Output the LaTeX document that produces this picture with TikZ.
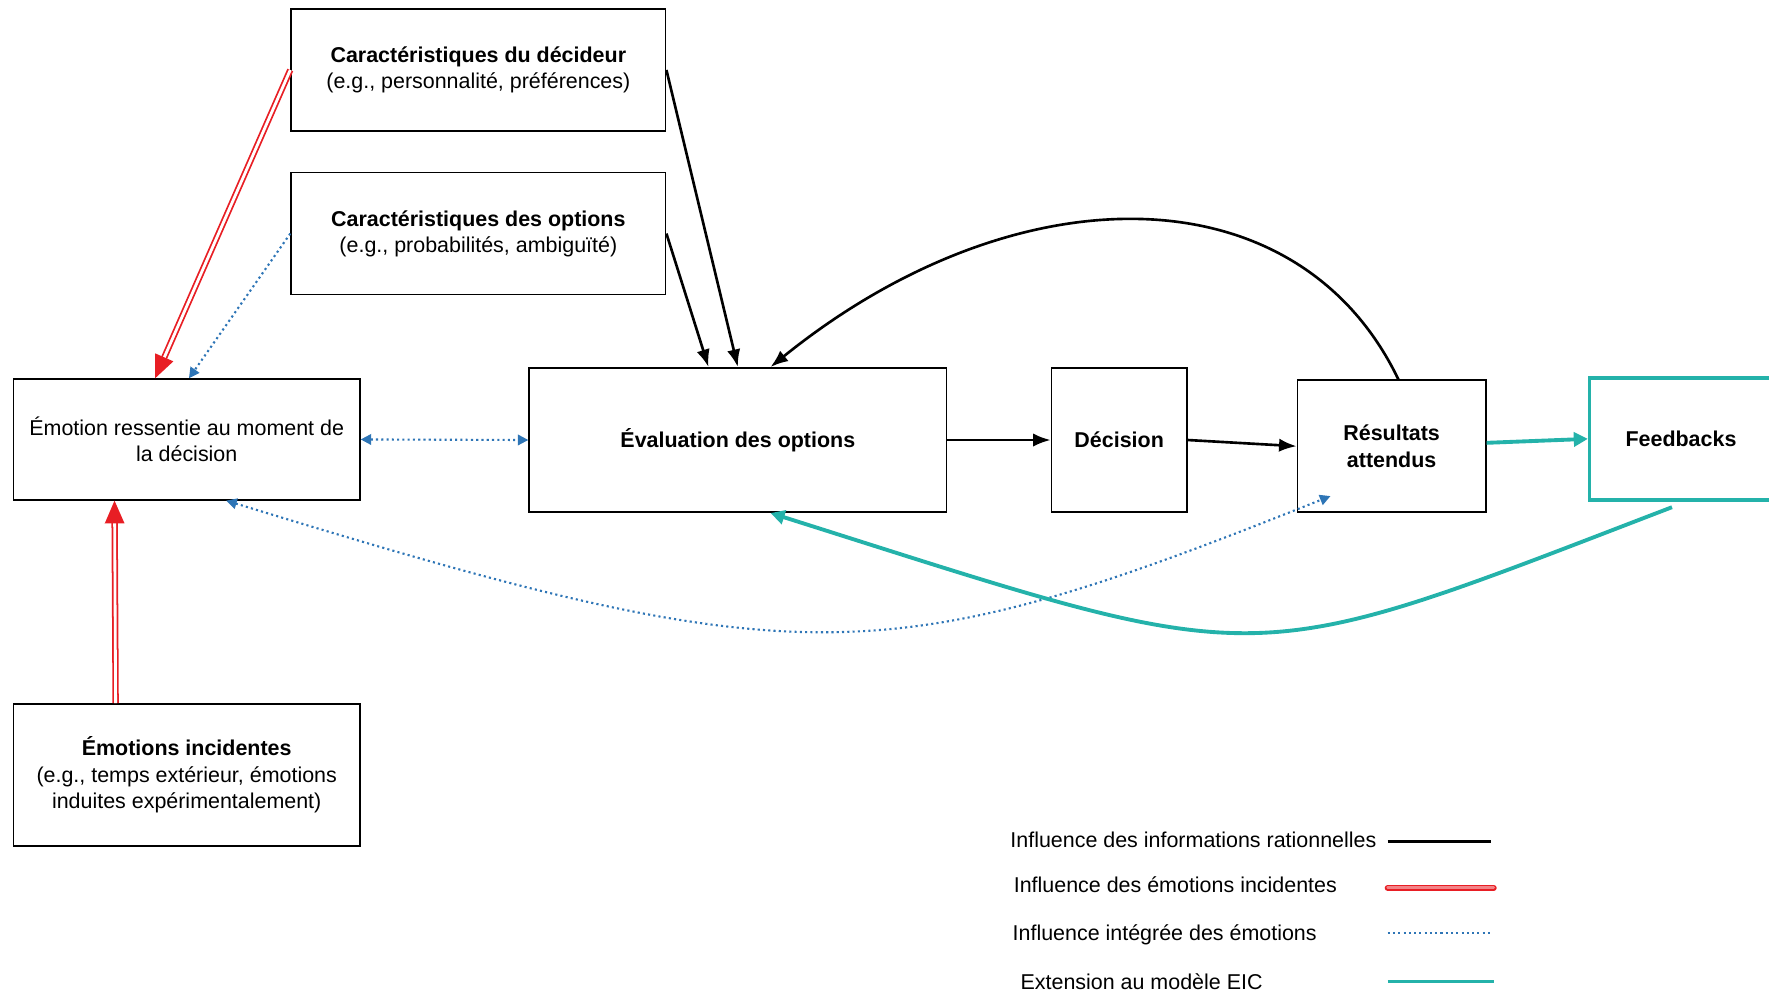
\documentclass[tikz,border=0pt]{standalone}
\usepackage{fontspec}
\setmainfont{Liberation Sans}
\usetikzlibrary{calc,arrows.meta}

\definecolor{eicteal}{RGB}{36,178,170}
\definecolor{emoblue}{RGB}{46,117,182}
\definecolor{incred}{RGB}{232,30,36}
\newcommand{\unitpx}{0.1128mm}

\tikzset{
	box/.style={draw, line width=0.45pt, align=center, inner sep=0pt, font=\fontsize{6.1}{7.5}\selectfont},
	legendtext/.style={anchor=west, inner sep=0pt, font=\fontsize{6.1}{7.5}\selectfont},
	rational/.style={line width=0.75pt, -{Latex[length=5pt,width=3.8pt]}},
	incident/.style={draw=incred, double=white, line width=0.5pt, double distance=0.8pt, -{Triangle[length=6.5pt,width=5.5pt,fill=incred]}},
	integrated/.style={emoblue, line width=0.6pt, dash pattern=on 0.6pt off 0.9pt, {Triangle[length=3pt,width=3pt]}-{Triangle[length=3pt,width=3pt]}},
	extension/.style={eicteal, line width=1.1pt, -{Triangle[length=4pt,width=4pt]}},
}

\begin{document}
\begin{tikzpicture}[x=\unitpx, y=-\unitpx]

	\useasboundingbox (0,0) rectangle (1568,882);

	\node[box, minimum width=332*\unitpx, minimum height=108*\unitpx] (dec) at (424,62) {\textbf{Caractéristiques du décideur}\\(e.g., personnalité, préférences)};
	\node[box, minimum width=332*\unitpx, minimum height=108*\unitpx] (opt) at (424,207) {\textbf{Caractéristiques des options}\\(e.g., probabilités, ambiguïté)};
	\node[box, minimum width=307*\unitpx, minimum height=107*\unitpx] (emo) at (165.5,389.5) {Émotion ressentie au moment de\\la décision};
	\node[box, minimum width=307*\unitpx, minimum height=126*\unitpx] (inc) at (165.5,687) {\textbf{Émotions incidentes}\\(e.g., temps extérieur, émotions\\induites expérimentalement)};
	\node[box, minimum width=370*\unitpx, minimum height=128*\unitpx] (eval) at (654,390) {\textbf{Évaluation des options}};
	\node[box, minimum width=120*\unitpx, minimum height=128*\unitpx] (deci) at (992,390) {\textbf{Décision}};
	\node[box, minimum width=167*\unitpx, minimum height=117*\unitpx] (res) at (1233.5,395.5) {\textbf{Résultats}\\\textbf{attendus}};
	\node[box, draw=eicteal, line width=1pt, minimum width=162*\unitpx, minimum height=108*\unitpx] (feed) at (1490,389) {\textbf{Feedbacks}};

	\draw[rational] (dec.east) -- (eval.north);
	\draw[rational] (opt.east) -- ($(eval.north)+(-26,0)$);
	\draw[rational] ($(res.north)+(6,0)$) .. controls (1150,150) and (900,150) .. ($(eval.north)+(29,0)$);
	\draw[rational] (eval.east) -- (deci.west);
	\draw[rational] (deci.east) -- (res.west);

	\draw[incident] (dec.west) -- ($(emo.north)+(-28,0)$);
	\draw[incident] ($(inc.north)+(-63,0)$) -- ($(emo.south)+(-64,0)$);

	\draw[integrated, -{Triangle[length=3pt,width=3pt]}] (opt.west) -- ($(emo.north)+(2,0)$);
	\draw[integrated] (emo.east) -- (eval.west);
	\draw[integrated] ($(emo.south)+(35,0)$) .. controls (710,600) and (783,598) .. ($(res.south west)+(30,-15)$);

	\draw[extension] ($(res.east)+(0,-3)$) -- (feed.west);
	\draw[extension] ($(feed.south)+(-8,5)$) .. controls (1095,598) and (1130,596) .. ($(eval.south)+(29,0)$);

	\node[legendtext] (leg1) at (895,744) {Influence des informations rationnelles};
	\node[legendtext] (leg2) at (898,784) {Influence des émotions incidentes};
	\node[legendtext] (leg3) at (897,829) {Influence intégrée des émotions};
	\node[legendtext] (leg4) at (904,870) {Extension au modèle EIC};
	\draw[line width=0.75pt] (1230,746) -- (1322,746);
	\draw[draw=incred, double=incred!55, line width=0.45pt, double distance=0.8pt, line cap=round] (1230,787) -- (1324,787);
	\draw[integrated, -] (1230,827) -- (1322,827);
	\draw[extension, -] (1230,870) -- (1324,870);

\end{tikzpicture}
\end{document}
